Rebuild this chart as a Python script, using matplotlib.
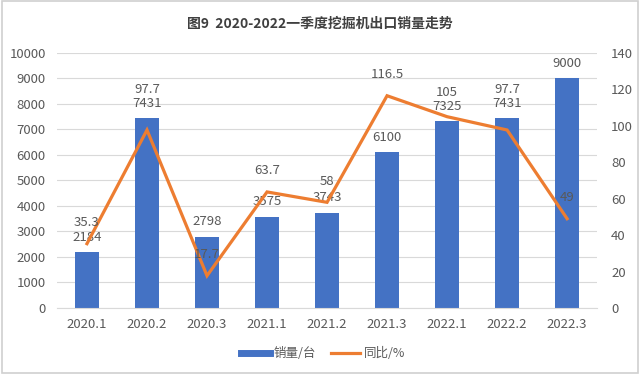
import matplotlib
matplotlib.use("Agg")
import matplotlib.pyplot as plt
from matplotlib.patches import Rectangle
from matplotlib.lines import Line2D

plt.rcParams['font.family'] = ['Noto Sans CJK SC', 'DejaVu Sans']

# data
quarters = ["2020.1", "2020.2", "2020.3", "2021.1", "2021.2",
            "2021.3", "2022.1", "2022.2", "2022.3"]
sales = [2184, 7431, 2798, 3575, 3743, 6100, 7325, 7431, 9000]
yoy = [35.3, 97.7, 17.7, 63.7, 58, 116.5, 105, 97.7, 49]
yoy_labels = ["35.3", "97.7", "17.7", "63.7", "58", "116.5", "105", "97.7", "49"]

bar_color = "#4472C4"
line_color = "#ED7D31"
text_color = "#595959"
grid_color = "#D9D9D9"

fig = plt.figure(figsize=(6.4, 3.74), dpi=100)
fig.patch.set_facecolor("white")
fig.patches.append(Rectangle((0.003, 0.004), 0.994, 0.992, transform=fig.transFigure,
                             fill=False, edgecolor="#D0D0D0", lw=1.2))

ax = fig.add_axes([0.089, 0.1765, 0.844, 0.682])
ax2 = ax.twinx()

x = list(range(len(quarters)))
ax.bar(x, sales, width=0.39, color=bar_color, zorder=2)
ax2.plot(x, yoy, color=line_color, lw=2.3, solid_joinstyle="miter", zorder=3)

ax.set_xlim(-0.5, len(quarters) - 0.5)
ax.set_ylim(0, 10000)
ax.set_yticks(range(0, 10001, 1000))
ax2.set_ylim(0, 140)
ax2.set_yticks(range(0, 141, 20))
ax.set_xticks(x)
ax.set_xticklabels(quarters)

ax.grid(axis="y", color=grid_color, lw=0.8, zorder=0)
ax.set_axisbelow(True)
for a in (ax, ax2):
    for s in a.spines.values():
        s.set_visible(False)
    a.tick_params(length=0, labelsize=9.5, labelcolor=text_color)
ax.spines["bottom"].set_visible(True)
ax.spines["bottom"].set_color(grid_color)
ax.tick_params(axis="y", pad=8)
ax.tick_params(axis="x", pad=7)
ax2.tick_params(axis="y", pad=10)

# data labels (pixel offsets, line label pushed above bar label when they clash)
fig.canvas.draw()
for i in x:
    bx, by = ax.transData.transform((i, sales[i]))
    bar_lbl_y = by + 15
    ax.annotate(str(sales[i]), (i, sales[i]), xytext=(0, 15), textcoords="offset pixels",
                ha="center", va="center", fontsize=9.5, color=text_color, zorder=5)
    lx, ly = ax2.transData.transform((i, yoy[i]))
    lbl_y = ly + 21
    if abs(lbl_y - bar_lbl_y) < 14:
        lbl_y = bar_lbl_y + 14
    ax2.annotate(yoy_labels[i], (i, yoy[i]), xytext=(0, lbl_y - ly), textcoords="offset pixels",
                 ha="center", va="center", fontsize=9.5, color=text_color, zorder=5)

fig.text(0.5, 0.935, "图9  2020-2022一季度挖掘机出口销量走势", ha="center", va="center",
         fontsize=10, fontweight="bold", color="#404040")

handles = [Line2D([0], [0], color=bar_color, lw=5),
           Line2D([0], [0], color=line_color, lw=2.3)]
fig.legend(handles, ["销量/台", "同比/%"], loc="center", bbox_to_anchor=(0.505, 0.055),
           ncol=2, frameon=False, fontsize=9, labelcolor=text_color,
           handlelength=2.3, columnspacing=1.2, handletextpad=0.3)

fig.savefig("out.png", dpi=100)
